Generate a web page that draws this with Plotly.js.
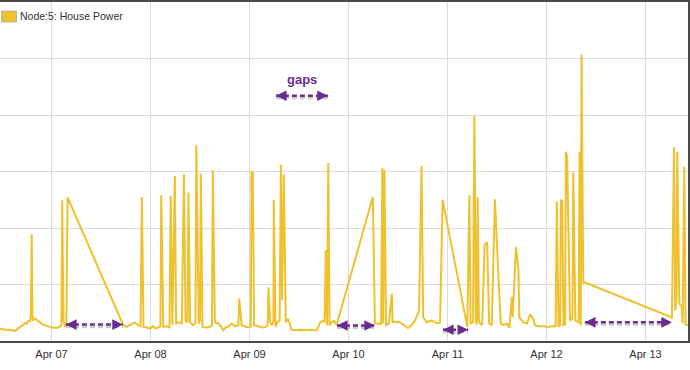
<!DOCTYPE html>
<html>
<head>
<meta charset="utf-8">
<script src="https://cdn.plot.ly/plotly-3.0.1.min.js"></script>
<style>html,body{margin:0;padding:0;background:#fff;}#chart{width:690px;height:370px;}</style>
</head>
<body>
<div id="chart"></div>
<script>
// Time of each reading, in hours since 2014-04-06 00:00
const hours = [
  11.5,12.7,13.9,15.2,16.4,17.1,17.6,18.1,18.3,18.8,19.0,19.2,19.4,19.5,20.0,20.7,21.2,21.9,22.4,23.1,
  23.6,24.8,25.6,26.1,26.4,26.6,26.9,27.3,27.6,27.9,41.4,
  42.2,43.0,44.2,45.0,45.6,45.9,46.3,47.1,47.9,48.6,49.3,49.8,50.4,50.6,51.1,51.8,52.6,52.9,53.3,53.9,
  54.2,54.7,55.6,56.1,56.5,57.0,57.2,57.6,58.3,58.9,59.1,59.7,60.0,60.2,60.6,61.5,62.4,62.9,63.1,63.6,
  64.4,65.1,65.6,66.3,67.0,67.7,68.5,69.3,69.5,70.1,
  70.9,71.6,72.3,72.5,72.8,73.1,74.1,75.0,76.0,76.4,76.6,77.0,77.5,77.8,77.9,78.3,78.7,79.3,79.6,79.9,
  80.3,80.8,81.4,82.2,83.0,84.2,85.5,86.7,87.9,88.4,89.1,89.7,90.2,90.5,90.8,91.1,91.4,91.9,92.5,93.1,101.9,
  102.2,102.4,103.1,103.9,104.2,104.4,104.7,105.1,105.8,106.5,106.7,107.5,108.5,109.5,110.4,111.4,112.1,113.1,113.7,114.1,
  115.0,115.5,116.2,117.0,117.8,118.2,118.8,124.8,125.3,125.6,126.2,126.5,126.9,127.1,127.3,127.6,
  127.9,128.4,129.0,129.6,130.1,130.7,131.5,132.3,132.9,133.5,134.4,135.0,135.6,135.8,136.6,137.2,137.4,138.4,139.3,140.0,
  140.8,141.2,142.0,143.1,144.4,145.3,146.2,146.5,146.9,147.3,147.5,147.8,148.1,148.5,148.7,149.0,149.7,150.3,150.5,151.0,
  151.8,152.0,152.3,152.5,152.9,153.2,
  174.1,174.4,174.9,175.2,175.5,175.7,176.2,176.8,177.0,177.4,177.7,178.3
];
// House power readings (W)
const watts = [
  220,200,200,180,250,280,320,310,350,350,450,1890,400,360,400,360,330,290,280,260,
  250,230,240,260,280,2490,360,250,280,2540,280,
  250,280,330,280,260,2550,250,240,220,260,220,240,260,2580,250,260,240,2570,280,2920,
  310,330,310,2950,360,330,2630,330,280,310,3470,310,360,2960,250,240,250,280,3020,330,
  310,260,190,240,260,310,260,280,750,280,
  260,240,260,2990,2980,280,260,240,250,280,950,330,280,360,2500,250,330,360,3120,720,
  2950,330,390,200,190,200,190,200,190,200,330,360,330,1610,280,3150,280,330,360,280,2550,
  490,310,310,300,3060,310,3030,280,310,840,330,340,330,280,230,290,360,540,3100,420,
  330,350,360,330,310,330,2500,250,2580,310,330,3990,360,290,2550,360,
  310,280,1700,1750,310,280,2510,1200,310,280,310,230,780,420,1660,1250,420,330,310,470,
  390,280,260,260,250,260,260,2470,250,280,2500,2480,280,290,3350,3260,360,400,2980,360,
  330,3350,280,5070,1020,1040,
  430,400,3430,540,720,3350,660,610,310,3090,290,280
];
const seriesName = "Node:5: House Power";
// Gaps in the record (hours since 2014-04-06 00:00) marked with arrows
const gapStart = [27.5, 93.2, 118.9, 153.3];
const gapEnd   = [41.3, 102.4, 125.0, 174.4];
const gapLevel = [290, 275, 200, 330];
const keyLabel = "gaps";
const keyStart = 78.4, keyEnd = 91.0, keyLevel = 4340, keyTextLevel = 4630;

const BASE = Date.UTC(2014, 3, 6);
function toDate(h) {
  return new Date(BASE + h * 3600e3).toISOString().replace('T', ' ').slice(0, 19);
}
const xs = hours.map(toDate);

const gold = '#EFC12C';
const purple = '#6B2C91';

const trace = {
  type: 'scatter', mode: 'lines', name: seriesName,
  x: xs, y: watts,
  line: {color: gold, width: 2},
  showlegend: false, hoverinfo: 'x+y'
};

const shapes = [];
const annotations = [];
function addArrow(h0, h1, yv) {
  const a = toDate(h0), b = toDate(h1);
  shapes.push({type: 'line', xref: 'x', yref: 'y', x0: a, x1: b, y0: yv - 40, y1: yv - 40,
    line: {color: 'rgba(150,150,150,0.5)', width: 2.5, dash: '5px,3px'}});
  shapes.push({type: 'line', xref: 'x', yref: 'y', x0: a, x1: b, y0: yv, y1: yv,
    line: {color: purple, width: 2.5, dash: '5px,3px'}});
  annotations.push({x: b, y: yv, xref: 'x', yref: 'y', ax: -6, ay: 0, text: '', showarrow: true,
    arrowhead: 2, arrowsize: 0.85, arrowwidth: 2.5, arrowcolor: purple});
  annotations.push({x: a, y: yv, xref: 'x', yref: 'y', ax: 6, ay: 0, text: '', showarrow: true,
    arrowhead: 2, arrowsize: 0.85, arrowwidth: 2.5, arrowcolor: purple});
}
for (let i = 0; i < gapStart.length; i++) addArrow(gapStart[i], gapEnd[i], gapLevel[i]);
addArrow(keyStart, keyEnd, keyLevel);
annotations.push({x: toDate((keyStart + keyEnd) / 2), y: keyTextLevel, xref: 'x', yref: 'y',
  text: '<b>' + keyLabel + '</b>', showarrow: false,
  font: {family: 'Liberation Sans, Arial, sans-serif', size: 13, color: purple}});

// legend box + label
shapes.push({type: 'rect', xref: 'paper', yref: 'paper', xsizemode: 'pixel', ysizemode: 'pixel',
  xanchor: 0, yanchor: 1, x0: 1.5, x1: 16.5, y0: -9, y1: -20,
  fillcolor: gold, line: {color: '#b5b5b5', width: 1}});
annotations.push({xref: 'paper', yref: 'paper', x: 0, y: 1, xanchor: 'left', yanchor: 'middle',
  xshift: 18, yshift: -14, text: seriesName, showarrow: false,
  font: {family: 'Liberation Sans, Arial, sans-serif', size: 10.5, color: '#333'}});

const layout = {
  width: 690, height: 370,
  margin: {l: 0, r: 2, t: 2, b: 29},
  paper_bgcolor: '#fff', plot_bgcolor: '#fff',
  font: {family: 'Liberation Sans, Arial, sans-serif', size: 11, color: '#333'},
  showlegend: false,
  xaxis: {
    type: 'date', range: [toDate(11.515), toDate(178.3)],
    tick0: '2014-04-07', dtick: 86400000, tickformat: '%b %d',
    showgrid: true, gridcolor: '#dcdcdc', gridwidth: 1,
    showline: true, linecolor: '#4a4a4a', linewidth: 2, mirror: true,
    ticks: '', ticklabelstandoff: 2, zeroline: false,
    tickfont: {size: 11, color: '#333'}
  },
  yaxis: {
    range: [0, 6000], dtick: 1000, side: 'right',
    showticklabels: false, ticks: '',
    showgrid: true, gridcolor: '#dcdcdc', gridwidth: 1,
    showline: true, linecolor: '#4a4a4a', linewidth: 2,
    zeroline: false
  },
  shapes: shapes,
  annotations: annotations
};

Plotly.newPlot('chart', [trace], layout, {displayModeBar: false, staticPlot: true});
</script>
</body>
</html>
